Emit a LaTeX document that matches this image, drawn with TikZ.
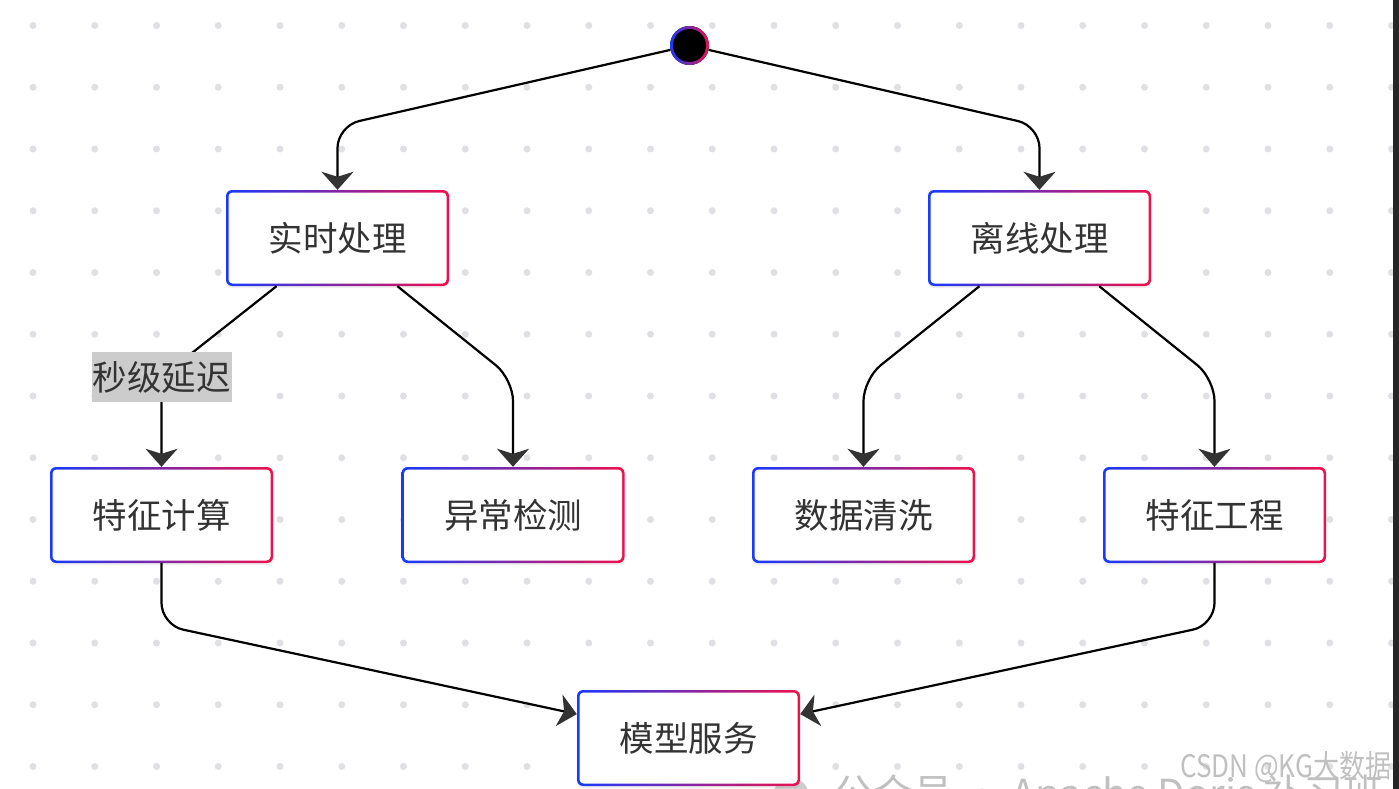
\documentclass[tikz,border=0pt]{standalone}
\usepackage{fontspec}
\setmainfont{Noto Sans CJK SC}
\usepackage{graphicx}
\usetikzlibrary{arrows.meta}
\usetikzlibrary{shadows}
\definecolor{bblue}{RGB}{24,58,252}
\definecolor{rred}{RGB}{238,18,76}
\definecolor{txtgray}{RGB}{51,51,51}
\definecolor{arrowgray}{RGB}{51,51,51}
\definecolor{dotgray}{RGB}{224,224,228}
\definecolor{lblgray}{RGB}{204,204,204}
\definecolor{wmgray}{RGB}{192,192,192}

\begin{document}
\begin{tikzpicture}[x=1pt,y=-1pt,
 box/.style={rectangle, rounded corners=6pt, minimum width=223pt, minimum height=96pt,
  inner sep=0pt, fill=white, text=txtgray, font=\fontsize{34.5}{40}\selectfont,
  drop shadow={opacity=0.12, shadow xshift=0pt, shadow yshift=-2pt},
  path picture={
   \shade[left color=bblue, right color=rred] (path picture bounding box.south west) rectangle (path picture bounding box.north east);
   \fill[white, rounded corners=4pt] ([shift={(2.5pt,2.5pt)}]path picture bounding box.south west) rectangle ([shift={(-2.5pt,-2.5pt)}]path picture bounding box.north east);
  }},
 startdot/.style={circle, minimum size=39pt, inner sep=0pt, fill=black,
  path picture={
   \shade[left color=bblue, right color=rred] (path picture bounding box.south west) rectangle (path picture bounding box.north east);
   \fill[black] (path picture bounding box.center) circle (16.5pt);
  }},
 flow/.style={draw=black, line width=2.2pt, rounded corners=22pt,
  -{Stealth[length=18pt, width=32pt, inset=5pt, color=arrowgray]}},
 lbl/.style={sharp corners, fill=lblgray, text=txtgray, font=\fontsize{34.5}{40}\selectfont,
  inner xsep=1pt, inner ysep=0pt, minimum height=50pt},
 wm/.style={text=wmgray, inner sep=0pt}]

\useasboundingbox (0,0) rectangle (1399,789);
\fill[white] (0,0) rectangle (1399,789);
\foreach \i in {0,...,22}
 \foreach \j in {0,...,12}
  \fill[dotgray] ({33+61.75*\i},{25.5+61.75*\j}) circle (3.5pt);

% watermarks
\fill[wmgray!80] (791,796) circle (18pt);
\node[wm, anchor=base west, font=\fontsize{40}{44}\selectfont] (gzh) at (833,808) {公众号 · Apache Doris 补习班};
\node[wm, anchor=base west, font=\fontsize{31}{34}\selectfont] (csdn) at (1180,777) {\scalebox{0.84}[1]{CSDN @KG大数据}};
\fill[black!85] (1393,0) rectangle (1399,789);

% nodes
\node[startdot] (start) at (689.5,45.5) {};
\node[box] (rt) at (337.5,238) {实时处理};
\node[box] (lx) at (1039.5,238) {离线处理};
\node[box] (tz) at (161.5,515) {特征计算};
\node[box] (yc) at (513,515) {异常检测};
\node[box] (sj) at (863.5,515) {数据清洗};
\node[box] (gc) at (1214.5,515) {特征工程};
\node[box] (mx) at (688.5,738) {模型服务};

% connectors
\draw[flow] (start) -- (337.5,126) -- (rt);
\draw[flow] (start) -- (1039.5,126) -- (lx);
\draw[flow] (rt) -- (161.5,377) node[lbl] (lat) {秒级延迟} -- (tz);
\draw[flow] (rt) -- (513,379) -- (yc);
\draw[flow] (lx) -- (863.5,379) -- (sj);
\draw[flow] (lx) -- (1214.5,379) -- (gc);
\draw[flow] (tz) -- (161.5,625) -- (mx);
\draw[flow] (gc) -- (1214.5,625) -- (mx);
\end{tikzpicture}
\end{document}
